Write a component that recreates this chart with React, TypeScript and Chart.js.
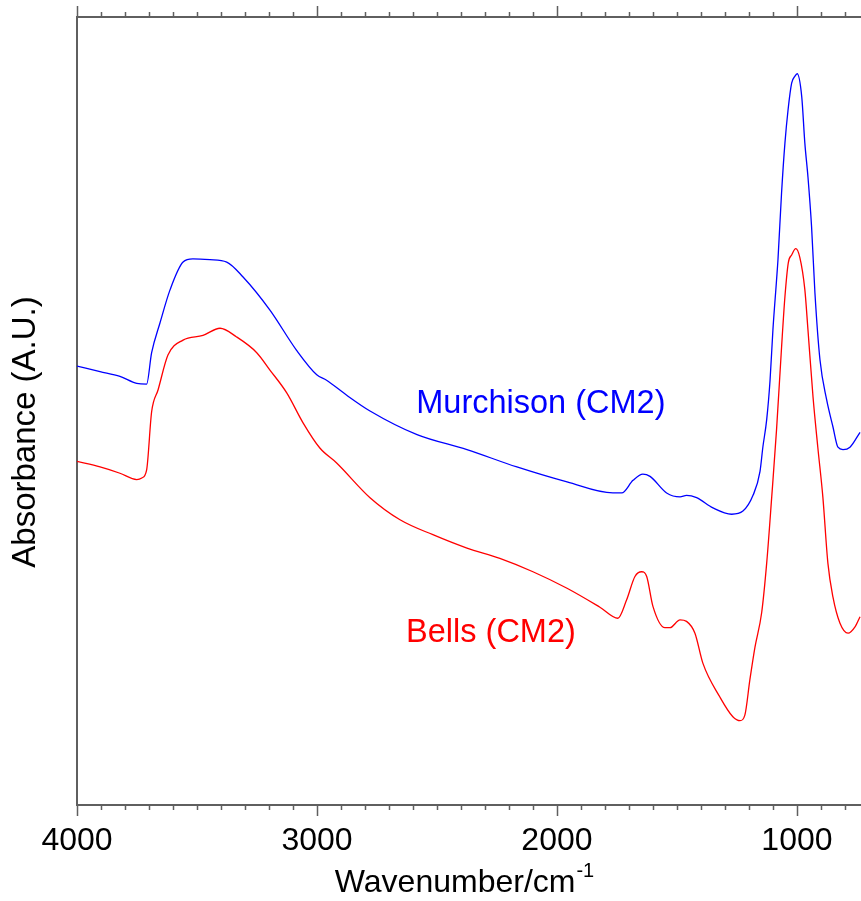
import React, { useEffect, useRef } from "react";
import { Chart, registerables } from "chart.js";

Chart.register(...registerables);

// ---- Data (wavenumber in cm^-1, absorbance in arbitrary units) ----
const murchisonWn = [
  4000, 3904, 3821, 3751, 3710, 3689, 3654, 3612, 3558, 3517, 3446, 3376, 3308, 3196, 3085, 3001,
  2960, 2876, 2779, 2583, 2375, 2167, 1958, 1767, 1730, 1683, 1642, 1612, 1543, 1487, 1460, 1418,
  1350, 1272, 1225, 1183, 1154, 1142, 1126, 1112, 1100, 1085, 1079, 1064, 1050, 1037, 1022, 1008,
  999, 980, 967, 954, 939, 925, 904, 876, 850, 829, 808, 779, 737,
];
const murchisonAbs = [
  0.557, 0.55, 0.544, 0.535, 0.534, 0.574, 0.612, 0.654, 0.689, 0.693, 0.692, 0.689, 0.67, 0.628, 0.577, 0.546,
  0.539, 0.52, 0.5, 0.47, 0.451, 0.429, 0.41, 0.396, 0.396, 0.412, 0.42, 0.417, 0.396, 0.391, 0.393, 0.39,
  0.377, 0.369, 0.373, 0.393, 0.423, 0.454, 0.489, 0.539, 0.603, 0.666, 0.692, 0.777, 0.84, 0.882, 0.916, 0.925,
  0.928, 0.899, 0.84, 0.797, 0.734, 0.65, 0.565, 0.514, 0.48, 0.454, 0.451, 0.454, 0.473,
];

const bellsWn = [
  4000, 3904, 3821, 3751, 3730, 3710, 3689, 3662, 3621, 3558, 3475, 3404, 3335, 3251, 3196, 3126,
  3058, 2988, 2918, 2779, 2654, 2517, 2375, 2238, 2100, 1958, 1821, 1746, 1710, 1675, 1647, 1626,
  1600, 1550, 1529, 1487, 1460, 1425, 1392, 1321, 1267, 1237, 1217, 1196, 1175, 1147, 1126,
  1105, 1085, 1064, 1050, 1036, 1022, 1005, 988, 967, 954, 933, 913, 892, 871, 850, 821, 787, 758, 737,
];
const bellsAbs = [
  0.436, 0.429, 0.421, 0.413, 0.415, 0.425, 0.499, 0.527, 0.571, 0.59, 0.596, 0.605, 0.594, 0.574, 0.552, 0.523,
  0.485, 0.453, 0.434, 0.39, 0.362, 0.343, 0.326, 0.313, 0.296, 0.275, 0.251, 0.237, 0.26, 0.29, 0.296, 0.29,
  0.252, 0.225, 0.225, 0.235, 0.233, 0.218, 0.18, 0.137, 0.112, 0.107, 0.114, 0.159, 0.2, 0.244, 0.307,
  0.391, 0.476, 0.581, 0.645, 0.688, 0.698, 0.706, 0.695, 0.654, 0.603, 0.518, 0.454, 0.391, 0.307, 0.264, 0.231, 0.218, 0.226, 0.239,
];

const xTickLabels = [4000, 3000, 2000, 1000];
const X_MIN = 733;
const X_MAX = 4000;
const MINOR_STEP = 100;

const seriesNames = ["Murchison (CM2)", "Bells (CM2)"];
// label anchor (wavenumber of text centre, absorbance of baseline)
const labelWn = [2067, 2275];
const labelAbs = [0.497, 0.207];

const X_TITLE = "Wavenumber/cm";
const X_TITLE_SUP = "-1";
const Y_TITLE = "Absorbance (A.U.)";

const BLUE = "#0000ff";
const RED = "#ff0000";
const AXIS = "#5f5f5f";
const FONT = "'Liberation Sans', Arial, sans-serif";

export default function App() {
  const ref = useRef<HTMLCanvasElement | null>(null);

  useEffect(() => {
    if (!ref.current) return;

    const overlay = {
      id: "overlay",
      afterDraw(chart: any) {
        const ctx = chart.ctx as CanvasRenderingContext2D;
        const xs = chart.scales.x;
        const ys = chart.scales.y;
        const { left, right, top, bottom } = chart.chartArea;
        ctx.save();
        // top axis line
        ctx.strokeStyle = AXIS;
        ctx.lineWidth = 2;
        ctx.beginPath();
        ctx.moveTo(left - 1, top);
        ctx.lineTo(right, top);
        ctx.stroke();
        // tick marks (top and bottom)
        ctx.lineWidth = 1.5;
        for (let w = X_MAX; w >= X_MIN; w -= MINOR_STEP) {
          const px = Math.round(xs.getPixelForValue(w)) + 0.5;
          const major = w % 1000 === 0;
          const len = major ? 11 : 5;
          ctx.beginPath();
          ctx.moveTo(px, top);
          ctx.lineTo(px, top - len);
          ctx.moveTo(px, bottom);
          ctx.lineTo(px, bottom + len);
          ctx.stroke();
        }
        // x axis title with superscript
        ctx.fillStyle = "#000";
        ctx.textBaseline = "alphabetic";
        ctx.textAlign = "left";
        ctx.font = `32px ${FONT}`;
        const wMain = ctx.measureText(X_TITLE).width;
        ctx.font = `20px ${FONT}`;
        const wSup = ctx.measureText(X_TITLE_SUP).width;
        const cx = (left + right) / 2 - 5;
        const sx = cx - (wMain + wSup) / 2;
        ctx.font = `32px ${FONT}`;
        ctx.fillText(X_TITLE, sx, 892);
        ctx.font = `20px ${FONT}`;
        ctx.fillText(X_TITLE_SUP, sx + wMain + 1, 877);
        // y axis title
        ctx.save();
        ctx.font = `33px ${FONT}`;
        ctx.textAlign = "center";
        ctx.translate(35, 432);
        ctx.rotate(-Math.PI / 2);
        ctx.fillText(Y_TITLE, 0, 0);
        ctx.restore();
        // series labels
        ctx.font = `32.5px ${FONT}`;
        ctx.textAlign = "center";
        const colors = [BLUE, RED];
        for (let i = 0; i < seriesNames.length; i++) {
          ctx.fillStyle = colors[i];
          ctx.fillText(seriesNames[i], xs.getPixelForValue(labelWn[i]), ys.getPixelForValue(labelAbs[i]));
        }
        ctx.restore();
      },
    };

    const chart = new Chart(ref.current, {
      type: "line",
      data: {
        datasets: [
          {
            label: seriesNames[0],
            data: murchisonWn.map((w, i) => ({ x: w, y: murchisonAbs[i] })),
            borderColor: BLUE,
            borderWidth: 1.3,
            pointRadius: 0,
            cubicInterpolationMode: "monotone",
            fill: false,
          },
          {
            label: seriesNames[1],
            data: bellsWn.map((w, i) => ({ x: w, y: bellsAbs[i] })),
            borderColor: RED,
            borderWidth: 1.3,
            pointRadius: 0,
            cubicInterpolationMode: "monotone",
            fill: false,
          },
        ],
      },
      options: {
        responsive: false,
        animation: false,
        layout: { padding: { left: 0, right: 0, top: 17, bottom: 0 } },
        plugins: { legend: { display: false }, tooltip: { enabled: false } },
        scales: {
          x: {
            type: "linear",
            reverse: true,
            min: X_MIN,
            max: X_MAX,
            afterBuildTicks: (s: any) => {
              s.ticks = xTickLabels.map((v) => ({ value: v }));
            },
            afterFit: (s: any) => {
              s.height = 96;
            },
            grid: { display: false, drawTicks: false },
            border: { display: true, color: AXIS, width: 2 },
            ticks: {
              color: "#000",
              font: { family: FONT, size: 32 },
              padding: 17,
              maxRotation: 0,
              autoSkip: false,
              callback: (v: any) => String(v),
            },
          },
          y: {
            type: "linear",
            min: 0,
            max: 1,
            afterFit: (s: any) => {
              s.width = 77;
            },
            grid: { display: false, drawTicks: false },
            border: { display: true, color: AXIS, width: 2 },
            ticks: { display: false },
          },
        },
      },
      plugins: [overlay],
    } as any);

    return () => chart.destroy();
  }, []);

  return (
    <div style={{ position: "fixed", left: 0, top: 0, width: 861, height: 901, background: "#fff" }}>
      <canvas ref={ref} width={861} height={901} />
    </div>
  );
}
